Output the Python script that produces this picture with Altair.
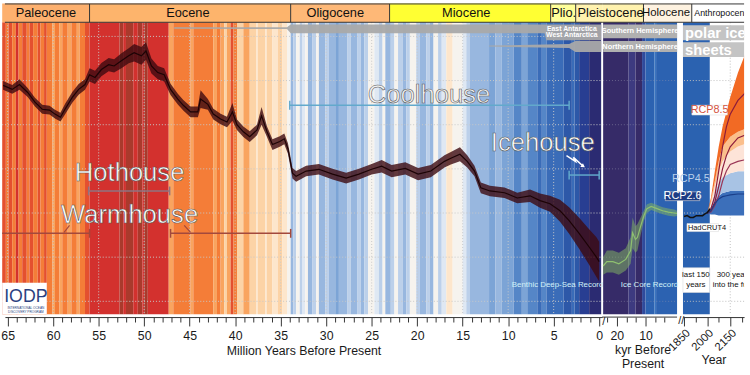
import altair as alt
import pandas as pd

FONT = "Liberation Sans"

# ---------------- main panel: benthic record (Million years) ----------------
ma_pts = [65.5, 64.5, 63.7, 62.8, 62.0, 61.2, 60.4, 59.8, 59.2, 58.7, 57.9, 57.2, 56.5,
          56.0, 55.4, 54.7, 53.9, 53.3, 52.5, 51.7, 51.1, 50.3, 49.8, 49.2, 48.5, 47.8,
          47.1, 46.3, 45.7, 44.9, 44.1, 43.8, 43.0, 42.4, 41.6, 40.9, 40.3, 39.8, 39.1,
          38.4, 37.6, 37.1, 36.5, 35.9, 35.1, 34.6, 34.2, 34.0,
          33.7, 33.3, 32.2, 30.8, 29.3, 27.8, 26.4, 25.0, 23.9, 22.8, 21.3, 19.9, 18.5,
          17.0, 16.3, 15.3, 14.5, 13.7, 13.0, 12.0, 10.4, 9.0, 7.6, 6.5, 5.4,
          4.3, 3.3, 2.2, 1.1, 0.3, 0.0]
d18o_mid = [0.11, 0.20, 0.09, 0.27, 0.49, 0.65, 0.67, 0.76, 0.83, 0.65, 0.38, 0.20, 0.09,
            -0.13, -0.07, -0.25, -0.36, -0.33, -0.45, -0.56, -0.63, -0.56, -0.67, -0.33, -0.18, -0.13,
            0.20, 0.42, 0.56, 0.71, 0.71, 0.42, 0.54, 0.76, 0.87, 0.94, 0.71, 1.00, 1.16,
            1.27, 1.12, 0.80, 1.16, 1.45, 1.38, 1.32, 1.54, 1.76,
            2.10, 2.17, 2.05, 2.01, 2.12, 2.21, 2.12, 2.01, 1.94, 2.05, 1.99, 2.12, 2.05,
            1.83, 1.76, 1.67, 1.83, 2.05, 2.43, 2.50, 2.54, 2.66, 2.61, 2.72, 2.79,
            2.95, 3.17, 3.46, 3.77, 4.00, 4.10]
d18o_spread = [0.10, 0.10, 0.12, 0.10, 0.10, 0.10, 0.10, 0.10, 0.10, 0.12, 0.12, 0.12, 0.12,
               0.15, 0.15, 0.15, 0.15, 0.15, 0.17, 0.17, 0.20, 0.20, 0.20, 0.17, 0.15, 0.15,
               0.13, 0.12, 0.12, 0.12, 0.12, 0.20, 0.12, 0.12, 0.12, 0.12, 0.20, 0.12, 0.12,
               0.12, 0.12, 0.20, 0.12, 0.12, 0.12, 0.12, 0.12, 0.12,
               0.12, 0.12, 0.12, 0.12, 0.12, 0.12, 0.12, 0.12, 0.14, 0.14, 0.14, 0.14, 0.14,
               0.14, 0.14, 0.16, 0.14, 0.12, 0.12, 0.12, 0.12, 0.12, 0.14, 0.16, 0.18,
               0.25, 0.30, 0.35, 0.40, 0.45, 0.45]

# climate-state stripes (start in Ma, colour class)
stripe_start_ma = [65.6, 65.2, 64.9, 64.5, 64.1, 63.8, 63.4, 62.9, 62.6, 62.2, 61.7, 61.4, 61.0,
                   60.7, 60.1, 59.8, 59.3, 59.0, 58.4, 58.0, 57.4, 57.1, 56.5, 56.0, 52.7, 52.3,
                   52.0, 51.2, 50.7, 50.2, 50.0, 49.6, 47.3, 46.8, 44.9, 44.6, 42.4, 42.0, 41.6,
                   41.2, 40.9, 40.5, 40.2, 39.8, 39.1, 38.4, 37.7, 37.5, 36.7, 36.5, 35.9, 35.3,
                   34.8, 34.3, 33.9, 33.6, 33.3, 32.9, 32.6, 32.3, 32.0, 31.5, 31.1, 30.8, 30.1,
                   29.7, 29.0, 28.6, 27.7, 27.3, 26.6, 26.2, 25.8, 25.4, 24.7, 24.2, 23.8, 23.5,
                   22.9, 22.5, 22.1, 21.6, 21.2, 20.8, 20.1, 19.7, 19.0, 18.6, 18.2, 17.7, 17.3,
                   16.8, 16.1, 15.0, 14.6, 14.2, 12.1, 11.4, 10.7, 9.4, 8.5, 7.9, 6.8, 6.3, 5.8,
                   3.9, 3.0, 2.7, 2.2, 1.1]
stripe_key_ma = ["r1", "o2", "r1", "o2", "r2", "o2", "r1", "o2", "r1", "o2", "r1", "o2", "r1",
                 "o2", "o1", "o2", "o1", "o2", "o1", "o2", "o1", "o2", "r1", "r2", "r3", "r2",
                 "r3", "r2", "r3", "r2", "r3", "r2", "o1", "o2", "o1", "o2", "o1", "o2", "o1",
                 "p", "o1", "r1", "o2", "p", "o1", "p", "c", "p", "c", "p", "c", "p",
                 "c", "w", "b2", "b1", "w", "b1", "b0", "w", "b2", "b1", "w", "b2", "b1",
                 "b2", "b3", "b2", "b1", "b2", "b1", "b2", "b1", "w", "b0", "b1", "w", "b2",
                 "b1", "w", "b1", "b2", "b1", "w", "b1", "b2", "b1", "b2", "w", "b1", "b0",
                 "c", "w", "b0", "b1", "b2", "b3", "b2", "b3", "b4", "b3", "b4", "b5", "b4", "b5",
                 "b6", "b5", "b6", "b7", "b8"]

kyr_stripe_start = [24.8, 15.9, 13.5, 11.2, 10.0, 6.9, 6.3]
kyr_stripe_key = ["k1", "k2", "k1", "k3", "k4", "k5", "k4"]

palette = {"r3": "#a93a2c", "r2": "#d3312e", "r1": "#e4502f", "o2": "#f47d38", "o1": "#f9a45f",
           "p": "#fcd3a6", "c": "#fde6cc", "w": "#f6f3ee", "b0": "#dfe8f3", "b1": "#bcd0ea",
           "b2": "#98b7df", "b3": "#7ca4d6", "b4": "#5586c7", "b5": "#3a6cb8", "b6": "#2d58a8",
           "b7": "#283e92", "b8": "#2b2b72", "k1": "#362b68", "k2": "#3d3a80", "k3": "#2f4a9c",
           "k4": "#2c62b1", "k5": "#3a74bf"}

# ---------------- ice core (kyr) ----------------
kyr_pts = [24.8, 23.5, 21.4, 19.3, 16.9, 15.2, 14.5, 13.5, 12.8, 11.7, 10.5, 9.5, 8.0, 6.0, 4.0, 2.0, 0.0, -1.0]
ice_mid = [4.20, 4.10, 4.10, 4.15, 4.05, 3.85, 3.45, 3.60, 3.55, 3.30, 3.05, 2.90, 2.85, 2.90, 2.95, 2.98, 3.00, 3.01]
ice_spread = [0.20, 0.25, 0.25, 0.25, 0.25, 0.30, 0.35, 0.30, 0.30, 0.20, 0.12, 0.10, 0.08, 0.08, 0.08, 0.08, 0.08, 0.06]

# ---------------- instrumental + projections (years) ----------------
had_years = [1850, 1870, 1890, 1910, 1930, 1950, 1970, 1990, 2000, 2010, 2017]
had_vals = [3.08, 3.06, 3.10, 3.10, 3.06, 3.06, 3.06, 3.01, 2.99, 2.95, 2.90]

band_years = [2000, 2025, 2050, 2075, 2100, 2150, 2200, 2250]
blue_bot = [3.013, 3.036, 3.036, 3.058, 3.058, 3.058, 3.058, 3.058]
blue_top = [3.013, 2.902, 2.723, 2.612, 2.545, 2.500, 2.500, 2.500]
lblue_top = [3.013, 2.835, 2.545, 2.321, 2.188, 2.098, 2.054, 2.054]
pink_top = [3.013, 2.790, 2.388, 2.054, 1.830, 1.607, 1.496, 1.429]
peach_top = [3.013, 2.723, 2.277, 1.830, 1.496, 1.272, 1.161, 1.094]
orange_top = [3.013, 2.656, 2.054, 1.500, 1.049, 0.379, -0.179, -0.625]

line_years = [2000, 2025, 2050, 2075, 2100, 2125, 2150, 2200, 2250]
rcp85_a = [3.01, 2.90, 2.61, 2.05, 1.50, 1.05, 0.76, 0.45, 0.27]
rcp85_b = [3.01, 2.95, 2.75, 2.40, 2.00, 1.70, 1.50, 1.30, 1.23]
rcp45_m = [3.01, 2.97, 2.83, 2.61, 2.28, 2.05, 1.90, 1.83, 1.79]
rcp26_m = [3.01, 2.95, 2.79, 2.68, 2.63, 2.61, 2.59, 2.57, 2.57]

# ---------------- epochs ----------------
epoch_start_ma = [65.6, 56.0, 33.9, 23.03, 5.33, 2.58]
epoch_end_ma = [56.0, 33.9, 23.03, 5.33, 2.58, -0.33]
epoch_color_ma = ["#fdb06e", "#fdb46c", "#feb877", "#ffff33", "#ffff99", "#fff2ae"]
epoch_names_ma = ["Paleocene", "Eocene", "Oligocene", "Miocene", "Plio."]
epoch_label_ma = [60.8, 45.2, 29.0, 14.6, 3.9]

grid_vals = [-1, 0, 1, 2, 3, 4, 5]
grid_ma = [5, 10, 15, 20, 25, 30, 35, 40, 45, 50, 55, 60, 65]

# ---------------- scales / axes ----------------
Y_SCALE = alt.Scale(domain=[-1.741, 5.29], reverse=True, nice=False, zero=False)
MA_SCALE = alt.Scale(domain=[-0.33, 65.3], reverse=True, nice=False, zero=False)
KY_SCALE = alt.Scale(domain=[-3.10, 25.14], reverse=True, nice=False, zero=False)
YR_SCALE = alt.Scale(domain=[1843, 2240], nice=False, zero=False)

MA_AXIS = alt.Axis(values=list(range(0, 66)), offset=3,
                   labelExpr="datum.value % 5 === 0 ? datum.label : ''",
                   tickSize={"condition": {"test": "datum.value % 5 === 0", "value": 9}, "value": 5},
                   labelPadding=4, title="Million Years Before Present", titlePadding=2)
KY_AXIS = alt.Axis(values=[23.33, 20, 16.67, 13.33, 10, 6.67, 3.33], offset=3, domain=False,
                   labelExpr="(datum.value == 20 || datum.value == 10) ? datum.label : ''",
                   tickSize={"condition": {"test": "datum.value == 20 || datum.value == 10", "value": 9}, "value": 5},
                   labelPadding=4, title=["kyr Before", "Present"], titlePadding=1, titleLineHeight=15)
YR_AXIS = alt.Axis(values=[1850, 1925, 2000, 2075, 2150, 2225], offset=3, format="d",
                   labelExpr="(datum.value - 1850) % 150 == 0 ? datum.label : ''",
                   tickSize={"condition": {"test": "(datum.value - 1850) % 150 == 0", "value": 9}, "value": 5},
                   labelAngle=-45, labelAlign="right", labelBaseline="top", labelOverlap=False,
                   labelPadding=1, labelFontSize=11.5, title="Year", titlePadding=1)


def Y(f):
    return alt.Y(f, type="quantitative", scale=Y_SCALE, axis=None)


def YD(v):
    return alt.YDatum(v, type="quantitative", scale=Y_SCALE, axis=None)


def MX(f):
    return alt.X(f, type="quantitative", scale=MA_SCALE, axis=MA_AXIS)


def KX(f):
    return alt.X(f, type="quantitative", scale=KY_SCALE, axis=KY_AXIS)


def RX(f):
    return alt.X(f, type="quantitative", scale=YR_SCALE, axis=YR_AXIS)


COLOR = alt.Color("col:N", scale=None)
TOP, BOT = -1.32, 5.29
HTOP = -1.735
HMID = -1.53
AXLINE = 5.357
HFONT = 13

# ======================= MAIN PANEL =======================
m_layers = []
st = pd.DataFrame({"x": stripe_start_ma, "x2": stripe_start_ma[1:] + [-0.22],
                   "col": [palette[k] for k in stripe_key_ma]})
m_layers.append(alt.Chart(st).mark_rect(strokeWidth=0).encode(
    x=MX("x"), x2="x2", y=YD(TOP), y2=alt.Y2Datum(BOT), color=COLOR))

gdf = pd.DataFrame({"y": grid_vals})
m_layers.append(alt.Chart(gdf).mark_rule(color="#c8c8c8", strokeDash=[1, 2], strokeWidth=1).encode(
    y=Y("y"), x=alt.XDatum(65.6, type="quantitative", scale=MA_SCALE, axis=MA_AXIS),
    x2=alt.X2Datum(-0.22)))
gvx = pd.DataFrame({"x": grid_ma})
m_layers.append(alt.Chart(gvx).mark_rule(color="#c8c8c8", strokeDash=[1, 2], strokeWidth=1).encode(
    x=MX("x"), y=YD(TOP), y2=alt.Y2Datum(BOT)))

curve = pd.DataFrame({"x": ma_pts, "mid": d18o_mid, "sp": d18o_spread})
m_layers.append(alt.Chart(curve).transform_calculate(
    lo="datum.mid - datum.sp", hi="datum.mid + datum.sp").mark_area(
    color="#3d0a10", opacity=0.8).encode(x=MX("x"), y=Y("lo"), y2="hi"))
m_layers.append(alt.Chart(curve).mark_line(color="#1c0305", strokeWidth=1.2).encode(
    x=MX("x"), y=Y("mid")))

# brackets
br = pd.DataFrame({"x": [56.1, 65.6, 47.1, 34.0, 3.3], "x2": [47.2, 56.0, 33.9, 3.3, 0.0],
                   "y": [2.50, 3.46, 3.46, 0.56, 2.14],
                   "col": ["#8e7482", "#a3493c", "#a3493c", "#62a9cc", "#62a9cc"]})
m_layers.append(alt.Chart(br).mark_rule(strokeWidth=1.5).encode(
    x=MX("x"), x2="x2", y=Y("y"), color=COLOR))
bt = pd.DataFrame({"x": [56.1, 47.2, 56.0, 47.1, 33.9, 34.0, 3.3, 3.3, 0.0],
                   "y": [2.50, 2.50, 3.46, 3.46, 3.46, 0.56, 0.56, 2.14, 2.14],
                   "col": ["#8e7482", "#8e7482", "#a3493c", "#a3493c", "#a3493c",
                           "#62a9cc", "#62a9cc", "#62a9cc", "#62a9cc"]})
m_layers.append(alt.Chart(bt).transform_calculate(
    a="datum.y - 0.1", b="datum.y + 0.1").mark_rule(strokeWidth=1.5).encode(
    x=MX("x"), y=Y("a"), y2="b", color=COLOR))
cn = pd.DataFrame({"x": [58.8, 45.6], "x2": [58.2, 44.9], "y": [3.44, 3.28], "y2": [3.28, 3.44]})
m_layers.append(alt.Chart(cn).mark_rule(color="#a3493c", strokeWidth=1.2).encode(
    x=MX("x"), x2="x2", y=Y("y"), y2="y2"))
zz = pd.DataFrame({"x": [3.59, 2.61, 2.83, 1.75], "y": [1.70, 1.83, 1.74, 1.94], "o": [0, 1, 2, 3]})
m_layers.append(alt.Chart(zz).mark_line(color="white", strokeWidth=1.5).encode(
    x=MX("x"), y=Y("y"), order="o:Q"))
m_layers.append(alt.Chart(zz.tail(1)).mark_point(shape="triangle-up", angle=125, size=22,
                                                  filled=True, color="white", opacity=1).encode(
    x=MX("x"), y=Y("y")))

big = pd.DataFrame({"t": ["Hothouse", "Warmhouse", "Coolhouse", "Icehouse"],
                    "x": [51.6, 51.6, 18.7, 6.2], "y": [2.10, 3.04, 0.32, 1.41],
                    "col": ["#ffffff", "#ffffff", "#f2f2f2", "#ffffff"]})
m_layers.append(alt.Chart(big).mark_text(font=FONT, fontSize=26, stroke="#5a5a5a", strokeWidth=0.6,
                                         opacity=1).encode(
    x=MX("x"), y=Y("y"), text="t:N", color=COLOR))

# ice sheet bars
b1 = pd.DataFrame({"x": [46.7, 34.3, 33.9, 6.0, 5.8, -0.22],
                   "t": [-1.205, -1.205, -1.27, -1.27, -1.27, -1.27],
                   "b": [-1.176, -1.165, -1.07, -1.07, -0.915, -0.915]})
b2 = pd.DataFrame({"x": [12.1, 3.3, 2.6, -0.22], "t": [-0.792, -0.826, -0.893, -0.893],
                   "b": [-0.770, -0.737, -0.647, -0.647]})
for b in (b1, b2):
    m_layers.append(alt.Chart(b).mark_area(color="#a9a9a9", opacity=0.95).encode(
        x=MX("x"), y=Y("t"), y2="b"))
ant = pd.DataFrame({"t": ["East Antarctica", "West Antarctica"], "x": [3.0, 3.0], "y": [-1.16, -1.03]})
m_layers.append(alt.Chart(ant).mark_text(font=FONT, fontSize=7, fontWeight="bold", color="white").encode(
    x=MX("x"), y=Y("y"), text="t:N"))

# IODP logo + record label
m_layers.append(alt.Chart(pd.DataFrame({"x": [65.6], "x2": [60.7], "y": [4.58], "y2": [5.29]})).mark_rect(
    color="white").encode(x=MX("x"), x2="x2", y=Y("y"), y2="y2"))
m_layers.append(alt.Chart(pd.DataFrame({"t": ["IODP"], "x": [63.0], "y": [4.90]})).mark_text(
    font=FONT, fontSize=18, color="#2b3f80").encode(x=MX("x"), y=Y("y"), text="t:N"))
m_layers.append(alt.Chart(pd.DataFrame({"t": ["INTERNATIONAL OCEAN", "DISCOVERY PROGRAM"],
                                        "x": [63.0, 63.0], "y": [5.16, 5.24]})).mark_text(
    font=FONT, fontSize=3.2, color="#2b3f80").encode(x=MX("x"), y=Y("y"), text="t:N"))
m_layers.append(alt.Chart(pd.DataFrame({"t": ["Benthic Deep-Sea Record"], "x": [4.57], "y": [4.64]})).mark_text(
    font=FONT, fontSize=8, color="#d2f1f8").encode(x=MX("x"), y=Y("y"), text="t:N"))

# header
eh = pd.DataFrame({"x": epoch_start_ma, "x2": epoch_end_ma, "col": epoch_color_ma})
m_layers.append(alt.Chart(eh).mark_rect(strokeWidth=0).encode(
    x=MX("x"), x2="x2", y=YD(HTOP - 0.01), y2=alt.Y2Datum(TOP), color=COLOR))
m_layers.append(alt.Chart(pd.DataFrame({"x": epoch_start_ma[1:]})).mark_rule(color="#333", strokeWidth=1).encode(
    x=MX("x"), y=YD(HTOP), y2=alt.Y2Datum(TOP)))
m_layers.append(alt.Chart(pd.DataFrame({"y": [HTOP, TOP]})).mark_rule(color="#333", strokeWidth=1).encode(y=Y("y")))
m_layers.append(alt.Chart(pd.DataFrame({"t": epoch_names_ma, "x": epoch_label_ma, "y": [HMID] * 5})).mark_text(
    font=FONT, fontSize=HFONT, color="#111").encode(x=MX("x"), y=Y("y"), text="t:N"))

main = alt.layer(*m_layers).properties(width=606, height=315)

# ======================= KYR PANEL =======================
k_layers = []
kst = pd.DataFrame({"x": kyr_stripe_start, "x2": kyr_stripe_start[1:] + [-1.03],
                    "col": [palette[k] for k in kyr_stripe_key]})
k_layers.append(alt.Chart(kst).mark_rect(strokeWidth=0).encode(
    x=KX("x"), x2="x2", y=YD(TOP), y2=alt.Y2Datum(BOT), color=COLOR))
k_layers.append(alt.Chart(gdf).mark_rule(color="#9a9ab0", strokeDash=[1, 2], strokeWidth=1, opacity=0.5).encode(
    y=Y("y"), x=alt.XDatum(24.8, type="quantitative", scale=KY_SCALE, axis=KY_AXIS), x2=alt.X2Datum(-1.03)))
ice = pd.DataFrame({"x": kyr_pts, "mid": ice_mid, "sp": ice_spread})
k_layers.append(alt.Chart(ice).transform_calculate(
    lo="datum.mid - datum.sp", hi="datum.mid + datum.sp").mark_area(
    color="#7fae62", opacity=0.55).encode(x=KX("x"), y=Y("lo"), y2="hi"))
k_layers.append(alt.Chart(ice).mark_line(color="#8fc070", strokeWidth=1.2).encode(x=KX("x"), y=Y("mid")))
hem = pd.DataFrame({"x": [24.8, 24.8], "x2": [-1.03, -1.03], "y": [-1.27, -0.893], "y2": [-0.96, -0.647]})
k_layers.append(alt.Chart(hem).mark_rect(color="#b0b0b0").encode(x=KX("x"), x2="x2", y=Y("y"), y2="y2"))
k_layers.append(alt.Chart(pd.DataFrame({"t": ["Southern Hemisphere", "Northern Hemisphere"],
                                        "x": [11.9, 11.9], "y": [-1.116, -0.77]})).mark_text(
    font=FONT, fontSize=7.5, fontWeight="bold", color="white").encode(x=KX("x"), y=Y("y"), text="t:N"))
k_layers.append(alt.Chart(pd.DataFrame({"t": ["Ice Core Record"], "x": [8.6], "y": [4.64]})).mark_text(
    font=FONT, fontSize=8, color="#d2f1f8").encode(x=KX("x"), y=Y("y"), text="t:N"))
kh = pd.DataFrame({"x": [25.14, 10.7], "x2": [10.7, -3.10], "col": ["#fff2ae", "#fef2e0"]})
k_layers.append(alt.Chart(kh).mark_rect(strokeWidth=0).encode(
    x=KX("x"), x2="x2", y=YD(HTOP - 0.01), y2=alt.Y2Datum(TOP), color=COLOR))
k_layers.append(alt.Chart(pd.DataFrame({"x": [10.7]})).mark_rule(color="#333", strokeWidth=1).encode(
    x=KX("x"), y=YD(HTOP), y2=alt.Y2Datum(TOP)))
k_layers.append(alt.Chart(pd.DataFrame({"y": [HTOP, TOP]})).mark_rule(color="#333", strokeWidth=1).encode(y=Y("y")))
k_layers.append(alt.Chart(pd.DataFrame({"t": ["Pleistocene"], "x": [22.2], "y": [HMID]})).mark_text(
    font=FONT, fontSize=HFONT, color="#111").encode(x=KX("x"), y=Y("y"), text="t:N"))
# axis baseline (broken) and break marks
k_layers.append(alt.Chart(pd.DataFrame({"x": [25.14], "x2": [-1.03], "y": [AXLINE]})).mark_rule(
    color="#333", strokeWidth=1).encode(x=KX("x"), x2="x2", y=Y("y")))
k_layers.append(alt.Chart(pd.DataFrame({"t": ["/", "//"], "x": [24.6, -2.5], "y": [5.47, 5.44]})).mark_text(
    font=FONT, fontSize=11, color="#222").encode(x=KX("x"), y=Y("y"), text="t:N"))

kyrp = alt.layer(*k_layers).properties(width=82, height=315)

# ======================= YEARS PANEL =======================
r_layers = []
r_layers.append(alt.Chart(pd.DataFrame({"x": [1843], "x2": [2017], "col": ["#2b62b0"]})).mark_rect(strokeWidth=0).encode(
    x=RX("x"), x2="x2", y=YD(TOP), y2=alt.Y2Datum(BOT), color=COLOR))
r_layers.append(alt.Chart(gdf).mark_rule(color="#c0c0c0", strokeDash=[1, 2], strokeWidth=1).encode(y=Y("y")))
r_layers.append(alt.Chart(pd.DataFrame({"x": [2150]})).mark_rule(color="#c0c0c0", strokeDash=[1, 2], strokeWidth=1).encode(
    x=RX("x"), y=YD(TOP), y2=alt.Y2Datum(BOT)))
bands = []
for col, lo, hi in [("#3c6fba", blue_bot, blue_top), ("#a8c3e4", blue_top, lblue_top),
                    ("#fde4d8", lblue_top, pink_top), ("#fbbf8c", pink_top, peach_top),
                    ("#f26a24", peach_top, orange_top)]:
    bands.append(pd.DataFrame({"x": band_years, "lo": lo, "hi": hi, "col": col}))
bands = pd.concat(bands)
r_layers.append(alt.Chart(bands).mark_area(clip=True).encode(
    x=RX("x"), y=Y("lo"), y2="hi", color=COLOR))
lines = []
for nm, col, vals in [("a", "#8c1c3c", rcp85_a), ("b", "#8c1c3c", rcp85_b),
                      ("c", "#9a3556", rcp45_m), ("d", "#1b3f8a", rcp26_m)]:
    lines.append(pd.DataFrame({"x": line_years, "y": vals, "col": col, "s": nm}))
lines = pd.concat(lines)
r_layers.append(alt.Chart(lines).mark_line(clip=True, strokeWidth=1.2).encode(
    x=RX("x"), y=Y("y"), color=COLOR, detail="s:N"))
r_layers.append(alt.Chart(pd.DataFrame({"x": had_years, "y": had_vals})).mark_line(
    color="#111", strokeWidth=1.5).encode(x=RX("x"), y=Y("y")))

# label boxes
lb = pd.DataFrame({"x": [1843, 1869, 1901, 1728], "x2": [2017, 2074, 2131, 1952],
                   "y": [4.24, 3.24, 0.56, 2.52], "y2": [4.80, 3.42, 0.78, 2.72],
                   "col": ["white", "white", "white", "#1e3c84"]})
r_layers.append(alt.Chart(lb).mark_rect(stroke="#dddddd", strokeWidth=0.6).encode(
    x=RX("x"), x2="x2", y=Y("y"), y2="y2", color=COLOR))
r_layers.append(alt.Chart(pd.DataFrame({"t": ["last 150", "years"], "x": [1927, 1927], "y": [4.40, 4.62]})).mark_text(
    font=FONT, fontSize=8, color="#111").encode(x=RX("x"), y=Y("y"), text="t:N"))
r_layers.append(alt.Chart(pd.DataFrame({"t": ["300 years", "into the future"], "x": [2062, 2036], "y": [4.40, 4.62]})).mark_text(
    font=FONT, fontSize=8, color="#111", align="left", clip=True).encode(x=RX("x"), y=Y("y"), text="t:N"))
r_layers.append(alt.Chart(pd.DataFrame({"t": ["HadCRUT4"], "x": [1875], "y": [3.33]})).mark_text(
    font=FONT, fontSize=7.5, color="#111", align="left").encode(x=RX("x"), y=Y("y"), text="t:N"))
rl = pd.DataFrame({"t": ["RCP8.5", "RCP4.5", "RCP2.6"], "x": [2016, 1894, 1840], "y": [0.67, 2.22, 2.62],
                   "col": ["#d4533f", "#b9d0ea", "#ffffff"]})
r_layers.append(alt.Chart(rl).mark_text(font=FONT, fontSize=11).encode(
    x=RX("x"), y=Y("y"), text="t:N", color=COLOR))

# polar ice sheets
pis = pd.DataFrame({"x": [1843, 1843], "x2": [2240, 2240], "y": [-1.25, -0.87], "y2": [-0.915, -0.536]})
r_layers.append(alt.Chart(pis).mark_rect(color="#c4c4c4").encode(x=RX("x"), x2="x2", y=Y("y"), y2="y2"))
r_layers.append(alt.Chart(pd.DataFrame({"t": ["polar ice", "sheets"], "x": [1856, 1856], "y": [-1.08, -0.70]})).mark_text(
    font=FONT, fontSize=15, fontWeight="bold", color="white", align="left", clip=True).encode(
    x=RX("x"), y=Y("y"), text="t:N"))

# header
rh = pd.DataFrame({"x": [1843, 1900], "x2": [1900, 2240], "col": ["#fef2e0", "#ffffff"]})
r_layers.append(alt.Chart(rh).mark_rect(strokeWidth=0).encode(
    x=RX("x"), x2="x2", y=YD(HTOP - 0.01), y2=alt.Y2Datum(TOP), color=COLOR))
r_layers.append(alt.Chart(pd.DataFrame({"x": [1900]})).mark_rule(color="#333", strokeWidth=1).encode(
    x=RX("x"), y=YD(HTOP), y2=alt.Y2Datum(TOP)))
r_layers.append(alt.Chart(pd.DataFrame({"y": [HTOP, TOP]})).mark_rule(color="#333", strokeWidth=1).encode(y=Y("y")))
r_layers.append(alt.Chart(pd.DataFrame({"t": ["Holocene"], "x": [1733], "y": [HMID]})).mark_text(
    font=FONT, fontSize=11.5, color="#111").encode(x=RX("x"), y=Y("y"), text="t:N"))
r_layers.append(alt.Chart(pd.DataFrame({"t": ["Anthropocene"], "x": [1916], "y": [HMID]})).mark_text(
    font=FONT, fontSize=9, color="#111", align="left", clip=True).encode(x=RX("x"), y=Y("y"), text="t:N"))

yrs = alt.layer(*r_layers).properties(width=62, height=315)

chart = alt.hconcat(main, kyrp, yrs, spacing=0, bounds="flush").resolve_scale(
    x="independent", y="independent").properties(padding=0, background="white")
chart = chart.configure_axis(labelFont=FONT, titleFont=FONT, labelFontSize=12.5, titleFontSize=12.5,
                             titleFontWeight="normal", labelColor="#1a1a1a", titleColor="#1a1a1a",
                             domainColor="#333", tickColor="#333", grid=False).configure_view(stroke=None)
chart.save("out.html", embed_options={"renderer": "svg", "actions": False})
